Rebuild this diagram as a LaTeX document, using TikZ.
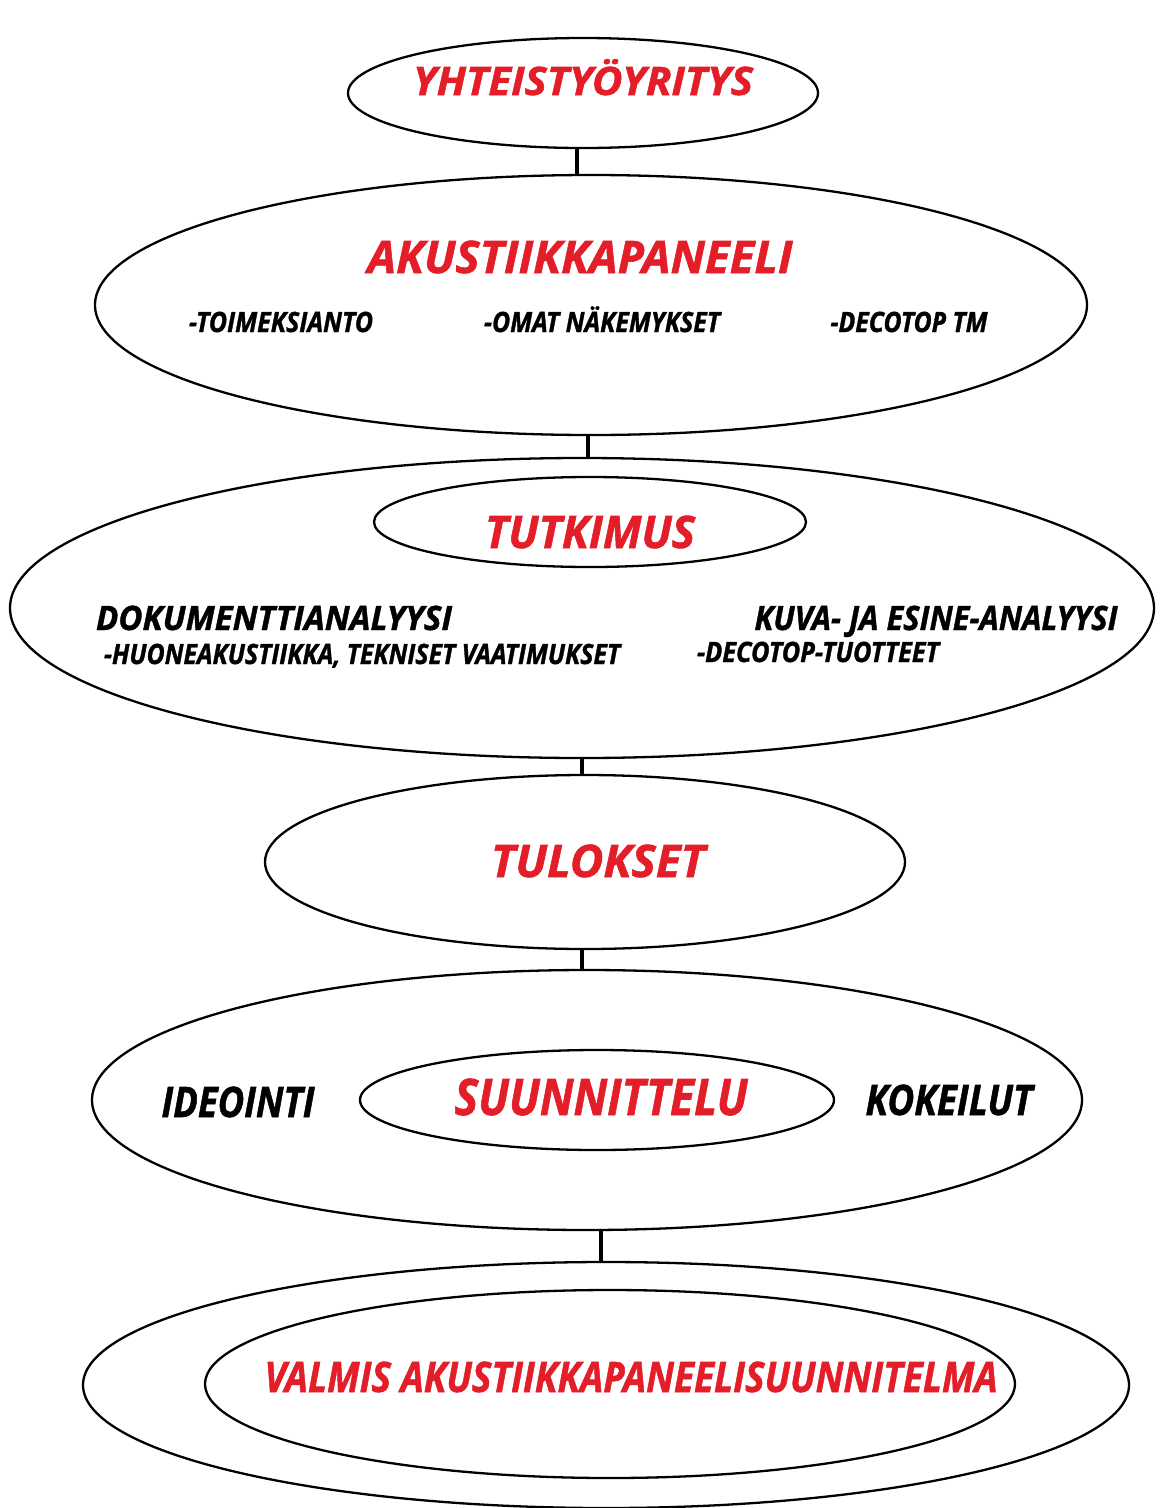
\documentclass[tikz,border=0pt]{standalone}
\usepackage{fontspec}
\setmainfont{Open Sans}[BoldItalicFeatures={FakeBold=1.3}]
\usetikzlibrary{shapes.geometric}
\definecolor{myred}{RGB}{228,30,40}
\newsavebox\fitbox
\newsavebox\capbox
\newcommand\fitt[3]{\sbox\fitbox{#3}\sbox\capbox{H}%
  \pgfmathsetmacro\fsx{#1/\wd\fitbox}\pgfmathsetmacro\fsy{#2/\ht\capbox}%
  \scalebox{\fsx}[\fsy]{\usebox\fitbox}}
\begin{document}
\begin{tikzpicture}[x=1pt,y=-1pt,
  ell/.style={draw=black,line width=2.3pt,ellipse,inner sep=0pt},
  link/.style={draw=black,line width=3.6pt},
  rtxt/.style={inner sep=0pt,anchor=base,text=myred,font=\fontsize{40}{48}\selectfont\bfseries\itshape},
  btxt/.style={inner sep=0pt,anchor=base,text=black,font=\fontsize{26}{32}\selectfont\bfseries\itshape}]
\useasboundingbox[fill=white] (0,0) rectangle (1160,1508);
% ellipses
\node[ell,minimum width=470pt,minimum height=110pt] (e1) at (583,93) {};
\node[ell,minimum width=992pt,minimum height=260pt] (e2) at (591,305) {};
\node[ell,minimum width=1144pt,minimum height=300pt] (e3) at (582,608) {};
\node[ell,minimum width=432pt,minimum height=90pt] (e3i) at (590,522) {};
\node[ell,minimum width=640pt,minimum height=174pt] (e4) at (585,862) {};
\node[ell,minimum width=990pt,minimum height=260pt] (e5) at (587,1100) {};
\node[ell,minimum width=474pt,minimum height=100pt] (e5i) at (597,1100) {};
\node[ell,minimum width=1046pt,minimum height=246pt] (e6) at (606,1385) {};
\node[ell,minimum width=810pt,minimum height=188pt] (e6i) at (610,1384) {};
% connectors
\draw[link] ([xshift=-6pt]e1.south) -- ([xshift=-6pt]e1.south |- e2.north);
\draw[link] ([xshift=-3pt]e2.south) -- ([xshift=-3pt]e2.south |- e3.north);
\draw[link] (e3.south) -- (e3.south |- e4.north);
\draw[link] ([xshift=-3pt]e4.south) -- ([xshift=-3pt]e4.south |- e5.north);
\draw[link] ([xshift=14pt]e5.south) -- ([xshift=14pt]e5.south |- e6.north);
% texts
\node[rtxt] (t1) at (583,95) {\fitt{340}{28}{YHTEISTYÖYRITYS}};
\node[rtxt] (t2) at (580,273) {\fitt{425}{32}{AKUSTIIKKAPANEELI}};
\node[btxt] (t2a) at (281,332) {\fitt{184}{20}{-TOIMEKSIANTO}};
\node[btxt] (t2b) at (602,332) {\fitt{236}{20}{-OMAT NÄKEMYKSET}};
\node[btxt] (t2c) at (909,332) {\fitt{157}{20}{-DECOTOP TM}};
\node[rtxt] (t3) at (590,548) {\fitt{210}{32}{TUTKIMUS}};
\node[btxt] (t3a) at (274,630) {\fitt{356}{24}{DOKUMENTTIANALYYSI}};
\node[btxt] (t3b) at (362,664) {\fitt{516}{20}{-HUONEAKUSTIIKKA, TEKNISET VAATIMUKSET}};
\node[btxt] (t3c) at (936,630) {\fitt{363}{24}{KUVA- JA ESINE-ANALYYSI}};
\node[btxt] (t3d) at (818,662) {\fitt{242}{20}{-DECOTOP-TUOTTEET}};
\node[rtxt] (t4) at (598,877) {\fitt{214}{32}{TULOKSET}};
\node[btxt] (t5a) at (238,1117) {\fitt{153}{30}{IDEOINTI}};
\node[rtxt] (t5) at (601,1115) {\fitt{293}{36}{SUUNNITTELU}};
\node[btxt] (t5b) at (949,1115) {\fitt{167}{30}{KOKEILUT}};
\node[rtxt] (t6) at (631,1392) {\fitt{733}{30}{VALMIS AKUSTIIKKAPANEELISUUNNITELMA}};
\end{tikzpicture}
\end{document}
